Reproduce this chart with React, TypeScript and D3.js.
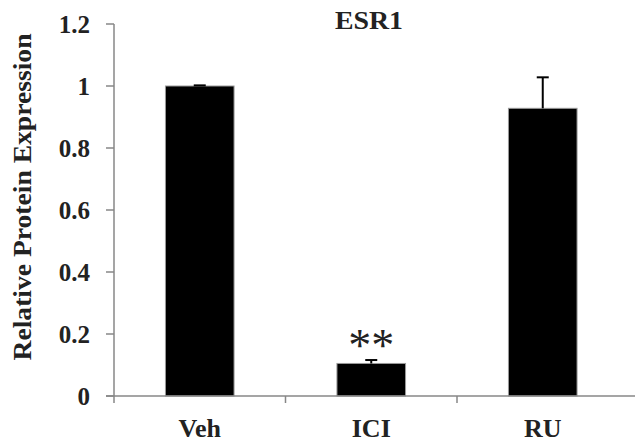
import React from 'react';
import * as d3 from 'd3';

const categories = ['Veh', 'ICI', 'RU'];
const values = [1.0, 0.105, 0.928];
const errors = [0.002, 0.011, 0.1];
const yTicks = [0, 0.2, 0.4, 0.6, 0.8, 1, 1.2];
const title = 'ESR1';
const yTitle = 'Relative Protein Expression';
const marks = ['', '**', ''];

const W = 635;
const H = 442;
const font = '"Liberation Serif", "Times New Roman", serif';
const axisColor = '#878787';

const App = () => {
  const x = d3.scaleBand().domain(categories).range([114, 628.5]).paddingInner(0).paddingOuter(0);
  const y = d3.scaleLinear().domain([0, 1.2]).range([396, 24]);
  const barW = x.bandwidth() * 0.4;

  return (
    <svg width={W} height={H} style={{ position: 'absolute', left: 0, top: 0, background: '#fff' }}>
      {/* title */}
      <text x={369} y={29} textAnchor="middle" fontFamily={font} fontWeight="bold" fontSize={25}
        textLength={68} lengthAdjust="spacingAndGlyphs" fill="#222">{title}</text>

      {/* y axis title */}
      <text transform={`translate(31,197) rotate(-90)`} textAnchor="middle" fontFamily={font}
        fontWeight="bold" fontSize={26} textLength={327} lengthAdjust="spacingAndGlyphs" fill="#222">{yTitle}</text>

      {/* y axis */}
      <line x1={114} x2={114} y1={y(1.2)} y2={y(0)} stroke={axisColor} strokeWidth={1.5} />
      {yTicks.map(t => (
        <g key={t}>
          <line x1={106} x2={114} y1={y(t)} y2={y(t)} stroke={axisColor} strokeWidth={1.5} />
          <text x={90} y={y(t)} dy="0.34em" textAnchor="end" fontFamily={font} fontWeight="bold"
            fontSize={25} fill="#222">{d3.format('~g')(t)}</text>
        </g>
      ))}

      {/* bars */}
      {categories.map((c, i) => {
        const cx = (x(c) as number) + x.bandwidth() / 2;
        return (
          <g key={c}>
            <rect x={cx - barW / 2} y={y(values[i])} width={barW} height={y(0) - y(values[i])}
              fill="#000" stroke="#9a9a9a" strokeWidth={1} />
            <line x1={cx} x2={cx} y1={y(values[i])} y2={y(values[i] + errors[i])} stroke="#000" strokeWidth={2} />
            <line x1={cx - 6} x2={cx + 6} y1={y(values[i] + errors[i])} y2={y(values[i] + errors[i])}
              stroke="#000" strokeWidth={2} />
            {marks[i] && (
              <text x={cx} y={y(values[i] + errors[i]) + 1} textAnchor="middle" fontFamily={font}
                fontSize={46} fill="#222">{marks[i]}</text>
            )}
          </g>
        );
      })}

      {/* x axis */}
      <line x1={106} x2={W} y1={y(0)} y2={y(0)} stroke={axisColor} strokeWidth={1.5} />
      {categories.map(c => (
        <line key={c} x1={x(c)} x2={x(c)} y1={y(0)} y2={y(0) + 7} stroke={axisColor} strokeWidth={1.5} />
      ))}
      {categories.map(c => (
        <text key={c} x={(x(c) as number) + x.bandwidth() / 2} y={437} textAnchor="middle" fontFamily={font}
          fontWeight="bold" fontSize={26} fill="#222">{c}</text>
      ))}
    </svg>
  );
};

export default App;
